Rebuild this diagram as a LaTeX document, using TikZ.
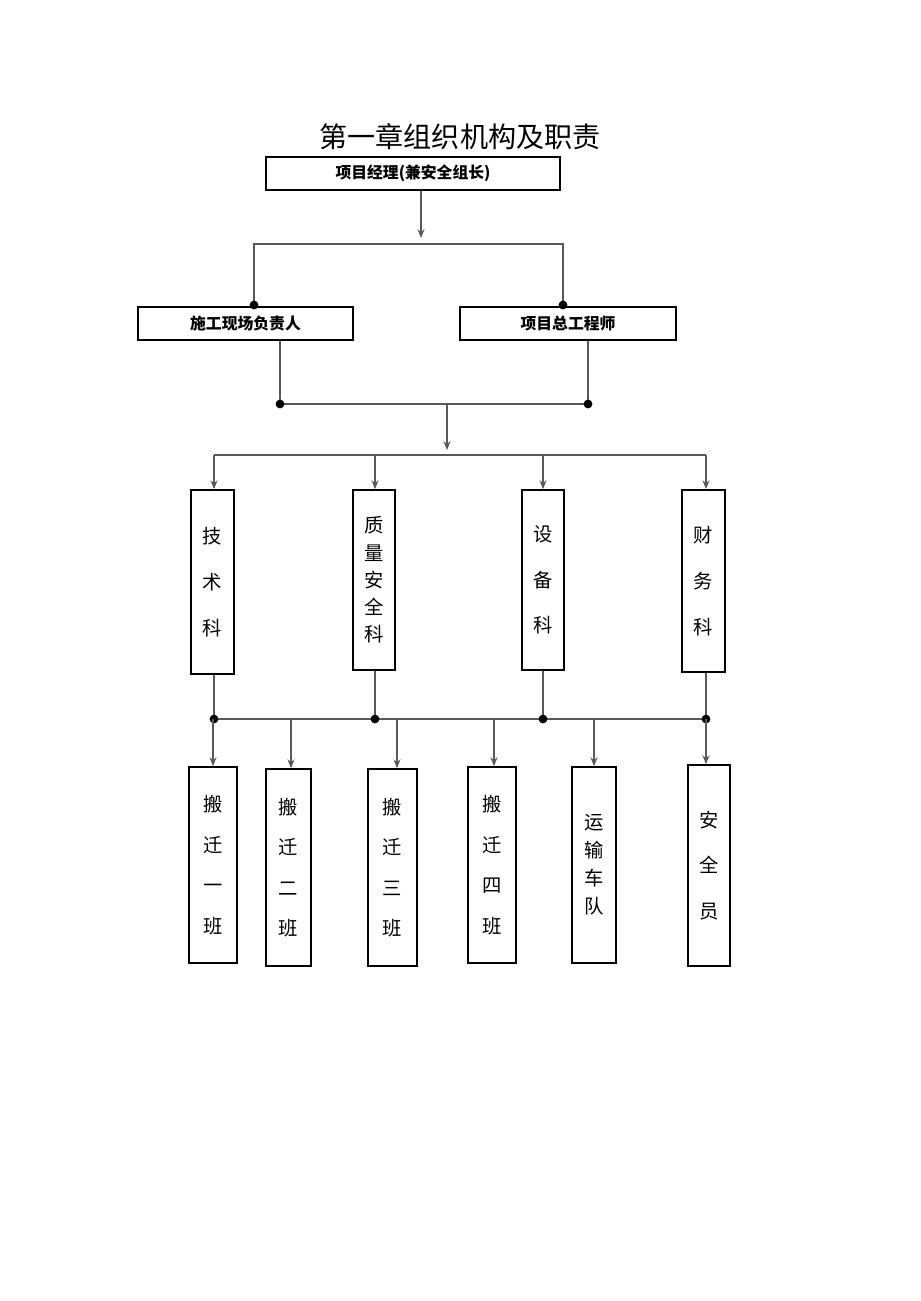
\documentclass[tikz,border=0pt]{standalone}
\usepackage{fontspec}
\newfontfamily\cjk{Noto Sans CJK SC}
\usetikzlibrary{arrows.meta}
\tikzset{
  box/.style={draw,line width=1pt,inner sep=0pt,font=\cjk\bfseries\fontsize{9}{11}\selectfont},
  vbox/.style={draw,line width=1pt,inner sep=0pt,align=center},
  dot/.style={circle,fill,inner sep=0pt,minimum size=5pt},
  link/.style={line width=1pt,gray!70!black},
  arr/.style={link,-{Stealth[length=5pt,width=4pt]}},
}
\begin{document}
\begin{tikzpicture}[x=0.02cm,y=-0.02cm]
    \useasboundingbox (0,0) rectangle (920,1301);
    \node[font=\cjk\fontsize{16}{18}\selectfont] (title) at (460,137) {第一章组织机构及职责};

    % top levels
    \node[box,minimum width=5.88cm,minimum height=0.66cm] (pm) at (413,173.5) {项目经理(兼安全组长)};
    \node[box,minimum width=4.3cm,minimum height=0.66cm] (site) at (245.5,323.5) {施工现场负责人};
    \node[box,minimum width=4.32cm,minimum height=0.66cm] (chief) at (568,323.5) {项目总工程师};

    \coordinate (a1) at (421,238);
    \coordinate (l1) at (254,244); \coordinate (r1) at (563,244);
    \coordinate (l2) at (254,305); \coordinate (r2) at (563,305);
    \draw[arr] (pm.south -| a1) -- (a1);
    \draw[link] (l2) -- (l1) -- (r1) -- (r2);
    \node[dot] at (l2) {}; \node[dot] at (r2) {};

    \coordinate (l3) at (280,404); \coordinate (r3) at (588,404);
    \draw[link] (site.south -| l3) -- (l3) -- (r3) -- (chief.south -| r3);
    \node[dot] at (l3) {}; \node[dot] at (r3) {};
    \coordinate (a2) at (447,450);
    \draw[arr] (447,404) -- (a2);

    % departments
    \node[vbox,minimum width=0.86cm,minimum height=3.68cm,font=\cjk\fontsize{11}{26}\selectfont] (tech) at (212.5,582) {技\\术\\科};
    \node[vbox,minimum width=0.84cm,minimum height=3.6cm,font=\cjk\fontsize{11}{15.5}\selectfont] (qual) at (374,580) {质\\量\\安\\全\\科};
    \node[vbox,minimum width=0.84cm,minimum height=3.6cm,font=\cjk\fontsize{11}{26}\selectfont] (equip) at (543,580) {设\\备\\科};
    \node[vbox,minimum width=0.86cm,minimum height=3.64cm,font=\cjk\fontsize{11}{26}\selectfont] (fin) at (703.5,581) {财\\务\\科};

    \coordinate (h1) at (214,455); \coordinate (h2) at (706,455);
    \draw[link] (h1) -- (h2);
    \foreach \d/\x in {tech/214,qual/375,equip/543,fin/706}
        \draw[arr] (\x,455) -- (\d.north -| \x,0);

    \coordinate (h3) at (214,719); \coordinate (h4) at (706,719);
    \draw[link] (h3) -- (h4);
    \foreach \d/\x in {tech/214,qual/375,equip/543,fin/706} {
        \draw[link] (\d.south -| \x,0) -- (\x,719);
        \node[dot] at (\x,719) {};
    }

    % teams
    \node[vbox,minimum width=0.96cm,minimum height=3.92cm,font=\cjk\fontsize{11}{23}\selectfont] (t1) at (213,865) {搬\\迁\\一\\班};
    \node[vbox,minimum width=0.9cm,minimum height=3.94cm,font=\cjk\fontsize{11}{23}\selectfont] (t2) at (288.5,867.5) {搬\\迁\\二\\班};
    \node[vbox,minimum width=0.98cm,minimum height=3.94cm,font=\cjk\fontsize{11}{23}\selectfont] (t3) at (392.5,867.5) {搬\\迁\\三\\班};
    \node[vbox,minimum width=0.96cm,minimum height=3.92cm,font=\cjk\fontsize{11}{23}\selectfont] (t4) at (492,865) {搬\\迁\\四\\班};
    \node[vbox,minimum width=0.88cm,minimum height=3.92cm,font=\cjk\fontsize{11}{16}\selectfont] (t5) at (594,865) {运\\输\\车\\队};
    \node[vbox,minimum width=0.84cm,minimum height=4.02cm,font=\cjk\fontsize{11}{26}\selectfont] (t6) at (709,865.5) {安\\全\\员};

    \foreach \t/\x in {t1/213,t2/291,t3/397,t4/494,t5/594,t6/706}
        \draw[arr] (\x,719) -- (\t.north -| \x,0);
\end{tikzpicture}
\end{document}
